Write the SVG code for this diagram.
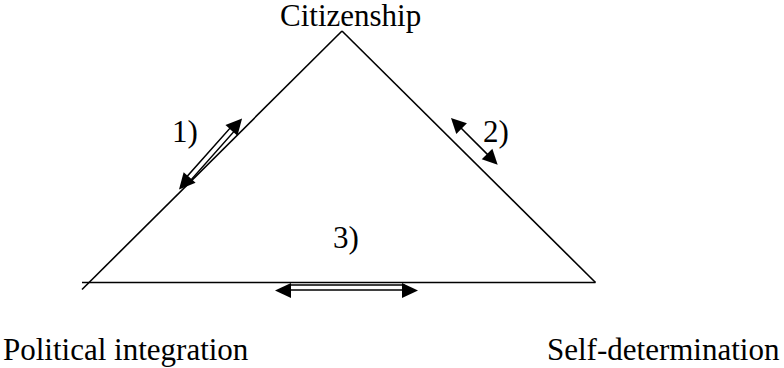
<svg xmlns="http://www.w3.org/2000/svg" width="784" height="368" viewBox="0 0 784 368">
<style>
.t{font-family:'Liberation Serif',Tinos,'Times New Roman',Times,'DejaVu Serif',serif;font-size:31px;fill:#000}
.ln{stroke:#000;stroke-width:1.6;fill:none}
.hd{fill:#000;stroke:none}
.sh{fill:#fff;stroke:#000;stroke-width:1.5}
</style>
<rect width="784" height="368" fill="#fff"/>
<g id="edges">
<line class="ln" x1="342" y1="31" x2="82" y2="289.5"/>
<line class="ln" x1="342" y1="31" x2="595.5" y2="282.5"/>
<line class="ln" x1="82" y1="282.5" x2="595.5" y2="282.5"/>
</g>
<g id="connectors">
<g id="arrow1" transform="translate(179,189.5) rotate(-48.4)">
<rect class="sh" x="15" y="-2.6" width="65" height="5.2"/>
<polygon class="hd" points="0,0 16,-8 16,8"/>
<polygon class="hd" points="95,0 79,-8 79,8"/>
</g>
<g id="arrow2" transform="translate(451,118) rotate(45)">
<line class="ln" x1="12" y1="0" x2="54" y2="0"/>
<polygon class="hd" points="0,0 15,-7.5 15,7.5"/>
<polygon class="hd" points="66,0 51,-7.5 51,7.5"/>
</g>
<g id="arrow3">
<rect class="sh" x="290" y="285" width="114" height="5"/>
<polygon class="hd" points="275,290.5 291,283 291,298"/>
<polygon class="hd" points="418,290.5 402,283 402,298"/>
</g>
</g>
<g id="node-citizenship"><text class="t" x="280" y="26">Citizenship</text></g>
<g id="node-political"><text class="t" x="3" y="360">Political integration</text></g>
<g id="node-self"><text class="t" x="547" y="360">Self-determination</text></g>
<g id="label1"><text class="t" x="172" y="142">1)</text></g>
<g id="label2"><text class="t" x="483" y="142">2)</text></g>
<g id="label3"><text class="t" x="333" y="248">3)</text></g>
</svg>
